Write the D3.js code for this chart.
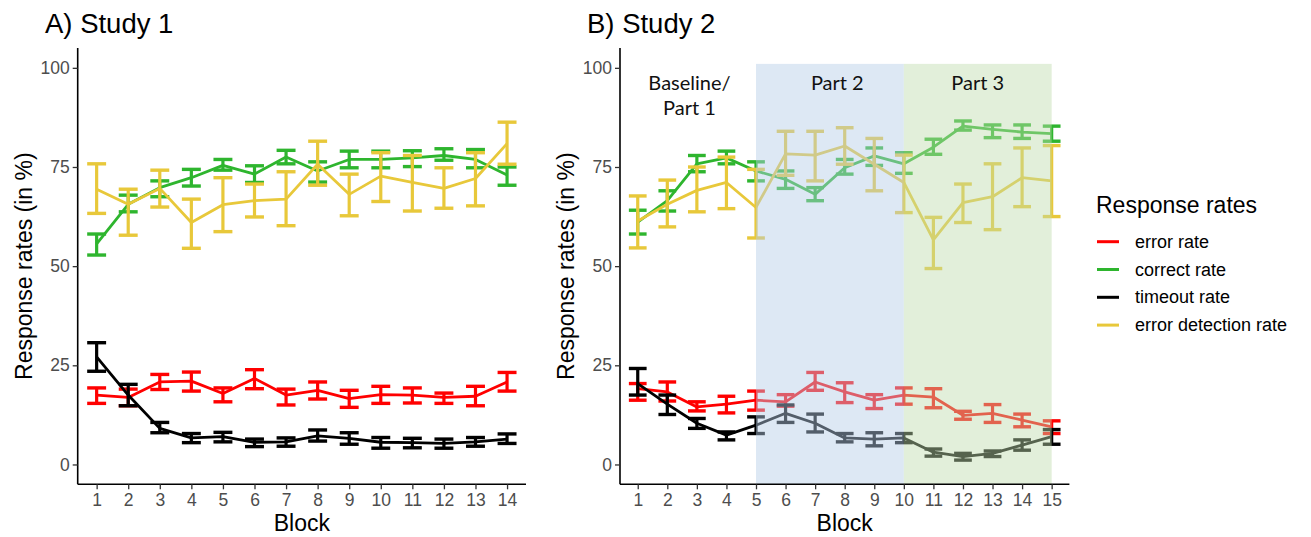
<!DOCTYPE html>
<html><head><meta charset="utf-8">
<script src="https://cdn.jsdelivr.net/npm/d3@7"></script>
<style>body{margin:0;background:#fff}svg{display:block}</style>
</head><body><svg id="c" width="1311" height="537"></svg>
<script>
// ---------- data ----------
const blocksA = [1,2,3,4,5,6,7,8,9,10,11,12,13,14];
const blocksB = [1,2,3,4,5,6,7,8,9,10,11,12,13,14,15];
const yTicks = [0,25,50,75,100];

const seriesNames = ["error rate","correct rate","timeout rate","error detection rate"];
const seriesColors = ["#ff0000","#2eb52e","#000000","#e8c83a"];

// Study 1
const errA      = [17.5,16.9,20.8,21.0,17.9,21.7,17.5,18.7,16.6,17.6,17.5,16.9,17.2,20.8];
const errA_lo   = [15.4,14.8,18.9,18.5,15.8,19.1,15.0,16.5,14.4,15.4,15.5,15.4,14.8,18.5];
const errA_hi   = [19.3,19.0,22.7,23.3,19.3,23.9,19.0,20.8,18.7,19.7,19.3,18.0,19.7,23.2];
const corA      = [55.6,65.6,69.8,72.3,75.4,73.2,77.5,74.0,76.9,76.9,77.3,77.9,76.9,73.0];
const corA_lo   = [52.8,63.7,67.5,70.2,74.2,71.1,75.8,71.2,74.8,74.8,75.1,76.7,74.8,70.4];
const corA_hi   = [58.1,67.9,71.5,74.4,76.9,75.3,79.2,76.3,79.0,79.0,79.1,79.6,79.4,75.0];
const toA       = [27.1,17.5,9.1,6.7,7.0,5.6,5.7,7.2,6.6,5.6,5.5,5.3,5.7,6.4];
const toA_lo    = [23.5,14.8,8.0,5.5,5.7,4.5,4.6,5.9,5.1,4.1,4.2,4.1,4.6,5.3];
const toA_hi    = [30.7,20.2,10.6,7.8,8.1,6.4,6.7,8.7,8.0,6.8,6.6,6.4,6.8,7.7];
const detA      = [69.4,65.6,69.6,61.0,65.5,66.5,66.9,75.7,68.1,72.7,71.1,69.6,72.1,80.9];
const detA_lo   = [63.3,57.8,64.9,54.5,58.7,62.4,60.2,70.4,62.7,66.3,63.9,64.6,65.2,75.7];
const detA_hi   = [75.8,69.4,74.2,66.9,72.3,70.7,73.8,81.5,73.2,78.6,77.9,74.8,78.6,86.3];

// Study 2
const errB      = [19.1,18.3,14.5,15.2,16.2,15.8,20.8,18.3,16.2,17.5,17.0,12.4,12.9,11.2,9.5];
const errB_lo   = [16.2,16.0,13.5,13.0,13.7,14.7,18.7,15.6,14.1,15.2,14.3,11.4,10.6,9.5,7.8];
const errB_hi   = [20.4,20.8,15.8,17.2,18.5,17.6,23.2,20.6,17.6,19.3,19.1,13.4,15.1,12.7,11.0];
const corB      = [61.1,66.5,75.8,77.3,74.0,71.9,68.1,74.8,77.8,75.8,80.0,85.3,84.5,83.8,83.4];
const corB_lo   = [58.1,63.9,73.8,75.8,71.5,69.6,66.5,73.2,75.4,73.4,78.2,84.3,82.4,82.2,81.5];
const corB_hi   = [64.1,69.0,77.9,79.0,76.3,74.0,69.8,76.9,79.8,78.6,82.0,86.6,85.6,85.6,85.3];
const toB       = [20.4,15.2,10.4,7.4,9.9,12.9,10.4,6.7,6.4,6.7,3.1,2.0,2.8,4.9,7.0];
const toB_lo    = [17.5,12.6,9.1,6.2,7.8,10.6,8.2,5.7,4.7,5.5,2.1,1.1,2.0,3.6,5.1];
const toB_hi    = [24.2,17.5,11.6,8.2,12.0,15.0,12.7,7.8,8.0,7.8,3.9,2.8,3.4,6.2,8.8];
const detB      = [61.4,65.6,69.1,71.1,64.8,78.3,78.0,80.3,75.7,71.1,56.6,66.0,67.5,72.3,71.5];
const detB_lo   = [54.6,59.9,63.7,64.5,57.1,72.9,71.5,75.7,69.0,63.5,49.4,61.0,59.2,65.0,62.5];
const detB_hi   = [67.7,71.7,75.0,77.5,74.4,84.0,84.0,84.9,82.2,78.0,62.3,70.7,75.8,79.8,80.4];

// Study 2 phases
const phaseLabels = [["Baseline/","Part 1"],["Part 2"],["Part 3"]];
const phaseLabelX = [2.75, 7.75, 12.5];
const phaseStart = [null, 5, 10];
const phaseEnd   = [null, 10, 15];
const phaseTop = 101;
const phaseFill = [null, "rgb(181,205,231)", "rgb(190,219,173)"];
const phaseOpacity = [null, 0.46, 0.45];

// ---------- drawing ----------
const svg = d3.select("#c");
const font = "'Liberation Sans', Arial, sans-serif";
const yTop = 48, yBot = 484.3;

function panel(opts){
  const {blocks, left, right, title, titleX, data, yTitleX} = opts;
  const x = d3.scalePoint().domain(blocks).range([left, right]).padding(0.6);
  const step = x.step();
  const y = d3.scaleLinear().domain([-5, 105]).range([yBot, yTop]);
  const g = svg.append("g");

  // data
  data.forEach((s, si) => {
    const col = seriesColors[si];
    const pts = blocks.map((b,i)=>({b, m:s.m[i], lo:s.lo[i], hi:s.hi[i]}));
    const eb = g.append("g");
    const cw = step*0.3;
    pts.forEach(p=>{
      eb.append("line").attr("x1",x(p.b)).attr("x2",x(p.b)).attr("y1",y(p.lo)).attr("y2",y(p.hi))
        .attr("stroke",col).attr("stroke-width",3.2);
      [p.lo,p.hi].forEach(v=>eb.append("line").attr("x1",x(p.b)-cw).attr("x2",x(p.b)+cw)
        .attr("y1",y(v)).attr("y2",y(v)).attr("stroke",col).attr("stroke-width",3.4));
    });
    g.append("path").datum(pts)
      .attr("d", d3.line().x(p=>x(p.b)).y(p=>y(p.m)))
      .attr("fill","none").attr("stroke",col).attr("stroke-width",2.8).attr("stroke-linejoin","round");
  });

  // phases
  if (opts.phases){
    phaseStart.forEach((st,i)=>{
      if (st===null) return;
      g.append("rect").attr("x",x(st)).attr("width",x(phaseEnd[i])-x(st))
        .attr("y",y(phaseTop)).attr("height",yBot-y(phaseTop))
        .attr("fill",phaseFill[i]).attr("fill-opacity",phaseOpacity[i]);
    });
    phaseLabels.forEach((lines,i)=>{
      const cx = x(blocks[0]) + (phaseLabelX[i]-1)*step;
      const t = g.append("text").attr("text-anchor","middle")
        .attr("font-family","Lato, 'Open Sans', sans-serif")
        .attr("font-size",20).attr("fill","#111");
      lines.forEach((l,j)=>t.append("tspan").attr("x", cx).attr("y", 90 + j*25).text(l));
    });
  }

  // axes
  const ya = g.append("g").attr("transform",`translate(${left},0)`)
    .call(d3.axisLeft(y).tickValues(yTicks).tickSize(5).tickSizeOuter(0).tickPadding(3));
  ya.select(".domain").attr("stroke","#000").attr("stroke-width",1.6).attr("d",`M0,${yTop}V${yBot}`);
  ya.selectAll(".tick line").attr("stroke","#333").attr("stroke-width",1.3);
  ya.selectAll(".tick text").attr("font-family",font).attr("font-size",17.5).attr("fill","#4d4d4d");

  const xa = g.append("g").attr("transform",`translate(0,${yBot})`)
    .call(d3.axisBottom(x).tickSize(5).tickSizeOuter(0).tickPadding(4));
  xa.select(".domain").attr("stroke","#000").attr("stroke-width",1.6).attr("d",`M${left},0H${right}`);
  xa.selectAll(".tick line").attr("stroke","#333").attr("stroke-width",1.3);
  xa.selectAll(".tick text").attr("font-family",font).attr("font-size",17.5).attr("fill","#4d4d4d");

  // titles
  g.append("text").attr("x",(left+right)/2).attr("y",531).attr("text-anchor","middle")
    .attr("font-family",font).attr("font-size",23).attr("fill","#000").text("Block");
  g.append("text").attr("transform",`translate(${yTitleX},${(yTop+yBot)/2}) rotate(-90)`)
    .attr("text-anchor","middle").attr("font-family",font).attr("font-size",23).attr("fill","#000")
    .text("Response rates (in %)");
  g.append("text").attr("x",titleX).attr("y",33).attr("font-family",font).attr("font-size",27.5)
    .attr("fill","#000").text(title);
}

panel({blocks:blocksA, left:77.7, right:526, title:"A) Study 1", titleX:45, yTitleX:32,
  data:[{m:errA,lo:errA_lo,hi:errA_hi},{m:corA,lo:corA_lo,hi:corA_hi},{m:toA,lo:toA_lo,hi:toA_hi},{m:detA,lo:detA_lo,hi:detA_hi}]});
panel({blocks:blocksB, left:620, right:1069.4, title:"B) Study 2", titleX:587, yTitleX:574, phases:true,
  data:[{m:errB,lo:errB_lo,hi:errB_hi},{m:corB,lo:corB_lo,hi:corB_hi},{m:toB,lo:toB_lo,hi:toB_hi},{m:detB,lo:detB_lo,hi:detB_hi}]});

// legend
const lg = svg.append("g");
lg.append("text").attr("x",1096).attr("y",213).attr("font-family",font).attr("font-size",23)
  .attr("fill","#000").text("Response rates");
seriesNames.forEach((n,i)=>{
  const yy = 241.7 + i*27.8;
  lg.append("line").attr("x1",1097).attr("x2",1119).attr("y1",yy).attr("y2",yy)
    .attr("stroke",seriesColors[i]).attr("stroke-width",3);
  lg.append("text").attr("x",1135).attr("y",yy+6).attr("font-family",font).attr("font-size",18)
    .attr("fill","#000").text(n);
});
</script></body></html>
